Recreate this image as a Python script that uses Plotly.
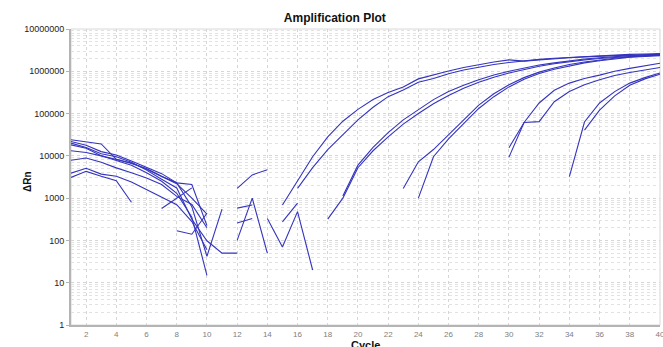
import plotly.graph_objects as go

# ---------------- data (ΔRn per cycle; None = not plotted) ----------------
x_ticks = list(range(2, 41, 2))
y_ticks = [1, 10, 100, 1000, 10000, 100000, 1000000, 10000000]

# early baseline traces (start at cycle 1)
base_1 = [24000, 21400, 19100, 8300, 6600, 5000, 3300, 2300, 2100, 224]
base_2 = [21900, 17800, 12600, 10500, 7600, 5400, 3800, 2300, 630, 42, 550]
base_3 = [20000, 15800, 11200, 9500, 7100, 4600, 2800, 1740, 316, 98, 50, 50]
base_4 = [18200, 15100, 10000, 7900, 6000, 4000, 2500, 1300, 355, 15]
base_5 = [13200, 12000, 10000, 8300, 6800, 4800, 3300, 2200, 1000, 417]
base_6 = [7900, 8900, 7100, 5200, 4000, 3000, 2100, 1100, 710, 200]
base_7 = [3900, 5100, 3700, 3300, 2400, 1600, 1050, 700, 280, 60]
base_8 = [3100, 4300, 3300, 2600, 800]

# short noisy fragments: (first cycle, values)
frag_1_start, frag_1 = 7, [570, 1000, 1750]
frag_2_start, frag_2 = 8, [170, 140, 440]
mid_1_start, mid_1 = 12, [1700, 3550, 4700]
mid_2_start, mid_2 = 12, [580, 690]
mid_3_start, mid_3 = 12, [257, 330]
mid_4_start, mid_4 = 12, [100, 1000, 50]
mid_5_start, mid_5 = 14, [330, 70, 480, 20]
mid_6_start, mid_6 = 15, [275, 760]

# amplification curves: (first cycle, values)
amp_a1_start, amp_a1 = 15, [690, 2570, 9550, 28200, 66000, 126000, 214000, 316000,
                            427000, 661000, 832000, 1020000, 1230000, 1450000, 1660000,
                            1860000, 1740000, 1860000, 2000000, 2090000, 2190000,
                            2290000, 2340000, 2400000, 2450000, 2510000]
amp_a2_start, amp_a2 = 16, [1700, 5250, 14100, 31600, 70800, 141000, 251000, 363000,
                            550000, 676000, 871000, 1070000, 1260000, 1450000, 1620000,
                            1780000, 1910000, 2040000, 2140000, 2240000, 2340000,
                            2450000, 2510000, 2570000, 2630000]
amp_b1_start, amp_b1 = 19, [1120, 6030, 15800, 35500, 70800, 126000, 214000, 331000,
                            468000, 631000, 813000, 1000000, 1200000, 1410000, 1580000,
                            1780000, 1950000, 2090000, 2240000, 2340000, 2450000, 2510000]
amp_b2_start, amp_b2 = 18, [320, 1000, 5250, 13200, 28200, 56200, 100000, 170000,
                            269000, 398000, 550000, 724000, 912000, 1120000, 1320000,
                            1510000, 1700000, 1860000, 2000000, 2140000, 2240000,
                            2340000, 2400000]
amp_c1_start, amp_c1 = 23, [1700, 7240, 14100, 31600, 70800, 158000, 295000, 479000,
                            708000, 955000, 1200000, 1450000, 1660000, 1860000,
                            2040000, 2190000, 2340000, 2450000]
amp_c2_start, amp_c2 = 24, [1000, 9550, 25100, 56200, 132000, 251000, 427000, 646000,
                            891000, 1120000, 1350000, 1580000, 1780000, 1950000,
                            2140000, 2240000, 2340000]
amp_d1_start, amp_d1 = 30, [15500, 61700, 178000, 355000, 525000, 676000, 813000,
                            1000000, 1170000, 1350000, 1550000]
amp_d2_start, amp_d2 = 30, [9330, 61700, 64600, 191000, 331000, 479000, 631000,
                            794000, 933000, 1070000, 1230000]
amp_e1_start, amp_e1 = 34, [3240, 63100, 178000, 331000, 525000, 708000, 912000]
amp_e2_start, amp_e2 = 35, [40700, 120000, 263000, 468000, 661000, 851000]

series = [
    (1, base_1), (1, base_2), (1, base_3), (1, base_4),
    (1, base_5), (1, base_6), (1, base_7), (1, base_8),
    (frag_1_start, frag_1), (frag_2_start, frag_2),
    (mid_1_start, mid_1), (mid_2_start, mid_2), (mid_3_start, mid_3),
    (mid_4_start, mid_4), (mid_5_start, mid_5), (mid_6_start, mid_6),
    (amp_a1_start, amp_a1), (amp_a2_start, amp_a2),
    (amp_b1_start, amp_b1), (amp_b2_start, amp_b2),
    (amp_c1_start, amp_c1), (amp_c2_start, amp_c2),
    (amp_d1_start, amp_d1), (amp_d2_start, amp_d2),
    (amp_e1_start, amp_e1), (amp_e2_start, amp_e2),
]

# ---------------- figure ----------------
LINE = "rgb(52,52,190)"
GRID = "#d6d6d6"

fig = go.Figure()
for start, vals in series:
    fig.add_trace(go.Scatter(
        x=list(range(start, start + len(vals))), y=vals,
        mode="lines", line=dict(color=LINE, width=1.1),
        showlegend=False, hoverinfo="skip", connectgaps=False))

fig.update_layout(
    width=663, height=347,
    margin=dict(l=71, r=3, t=29, b=22, autoexpand=False),
    paper_bgcolor="white", plot_bgcolor="white",
    font=dict(family="Liberation Sans, Arial, sans-serif", color="#222"),
    title=dict(text="<b>Amplification Plot</b>", x=0.505, xref="container",
               xanchor="center", y=1 - 18 / 347, yref="container", yanchor="middle",
               font=dict(size=12, color="#111")),
    showlegend=False,
)

fig.update_xaxes(
    range=[0.999, 40.001], tickvals=x_ticks, ticktext=[str(v) for v in x_ticks],
    showgrid=True, gridcolor=GRID, griddash="dot", gridwidth=1,
    zeroline=False, showline=True, linecolor="#b4b4b4", linewidth=2,
    ticks="", automargin=False, ticklabeloverflow="allow",
    tickfont=dict(size=8, color="#808080"),
)
fig.update_yaxes(
    type="log", range=[0, 7], tickvals=y_ticks, ticktext=[str(v) for v in y_ticks],
    showgrid=True, gridcolor=GRID, griddash="dot", gridwidth=1,
    minor=dict(showgrid=True, gridcolor="#e2e2e2", griddash="dot", dtick="D1"),
    zeroline=False, showline=True, linecolor="#b4b4b4", linewidth=2,
    ticks="outside", ticklen=3, tickcolor="#b4b4b4", automargin=False,
    ticklabeloverflow="allow",
    tickfont=dict(size=9, color="#222"),
)

# light frame on top/right of the plot area
fig.add_shape(type="rect", xref="paper", yref="paper", x0=0, x1=1, y0=0, y1=1,
              line=dict(color="#d8d8d8", width=1), layer="below")

fig.add_annotation(text="<b>ΔRn</b>", xref="paper", yref="paper",
                   x=(27 - 71) / 589, y=(325 - 182) / 296, textangle=-90, showarrow=False,
                   font=dict(size=10, color="#111"), xanchor="center", yanchor="middle")
fig.add_annotation(text="<b>Cycle</b>", xref="paper", yref="paper",
                   x=0.5, y=-(337 - 325) / 296, showarrow=False, yanchor="top",
                   font=dict(size=11, color="#111"))

fig.write_html("out.html", config={"displayModeBar": False},
               post_script="document.body.style.margin='0';")
